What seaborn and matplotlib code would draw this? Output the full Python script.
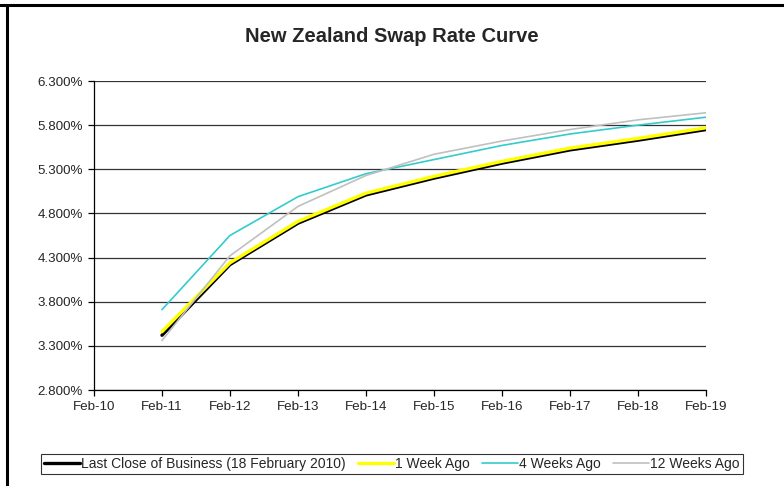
import matplotlib
matplotlib.use("Agg")
import matplotlib.pyplot as plt
import matplotlib.dates as mdates
from matplotlib.lines import Line2D
from matplotlib.ticker import FuncFormatter
import pandas as pd
import seaborn as sns

# Tenor dates (one point per year) and swap rates in percent
dates = pd.to_datetime([f"{y}-02-18" for y in range(2011, 2020)])
last_close = [3.42, 4.22, 4.69, 5.01, 5.20, 5.37, 5.52, 5.63, 5.75]
week_1 = [3.46, 4.24, 4.71, 5.03, 5.22, 5.39, 5.54, 5.65, 5.77]
week_4 = [3.71, 4.55, 4.99, 5.25, 5.41, 5.57, 5.70, 5.80, 5.89]
week_12 = [3.36, 4.32, 4.88, 5.23, 5.47, 5.62, 5.75, 5.86, 5.94]

series = [
    ("Last Close of Business (18 February 2010)", last_close, "#000000", 2.4),
    ("1 Week Ago", week_1, "#FFFF00", 2.4),
    ("4 Weeks Ago", week_4, "#33CCCC", 1.2),
    ("12 Weeks Ago", week_12, "#C0C0C0", 1.2),
]

sns.set_style("white")
plt.rcParams["font.family"] = ["Liberation Sans", "DejaVu Sans"]

fig = plt.figure(figsize=(7.84, 4.86), dpi=100)
ax = fig.add_axes([94 / 784, 1 - 390 / 486, 612 / 784, 309 / 486])

for name, vals, color, lw in series:
    df = pd.DataFrame({"date": dates, "rate": vals})
    sns.lineplot(data=df, x="date", y="rate", ax=ax, color=color,
                 linewidth=lw, label=name, legend=False)

ax.set_xlim(pd.Timestamp("2010-02-18"), pd.Timestamp("2019-02-18"))
ax.set_ylim(2.8, 6.3)
ax.set_yticks([2.8, 3.3, 3.8, 4.3, 4.8, 5.3, 5.8, 6.3])
ax.yaxis.set_major_formatter(FuncFormatter(lambda v, _: f"{v:.3f}%"))
ax.xaxis.set_major_locator(mdates.YearLocator(base=1, month=2, day=18))
ax.xaxis.set_major_formatter(mdates.DateFormatter("%b-%y"))
ax.set_xlabel("")
ax.set_ylabel("")

ax.grid(axis="y", color="#333333", linewidth=0.9)
ax.grid(axis="x", visible=False)
for side in ["top", "right"]:
    ax.spines[side].set_visible(False)
for side in ["left", "bottom"]:
    ax.spines[side].set_color("black")
    ax.spines[side].set_linewidth(0.9)
ax.tick_params(axis="both", direction="out", length=4, width=0.9,
               color="black", labelsize=9.6, pad=4, left=True, bottom=True)

fig.text(0.5, 1 - 36 / 486, "New Zealand Swap Rate Curve", ha="center",
         va="center", fontsize=14.5, fontweight="bold")

handles = [Line2D([], [], color=c, linewidth=lw) for _, _, c, lw in series]
leg = fig.legend(handles, [s[0] for s in series], loc="center",
                 bbox_to_anchor=(0.5, 1 - 464 / 486), ncol=4, fontsize=10,
                 frameon=True, fancybox=False, edgecolor="black",
                 handlelength=2.6, handletextpad=0.05, columnspacing=0.9,
                 borderpad=0.25, borderaxespad=0)
leg.get_frame().set_linewidth(0.8)

# outer chart frame (top and left edges visible in the screenshot)
fig.add_artist(Line2D([0, 1], [1 - 5 / 486, 1 - 5 / 486], color="black",
                      linewidth=2.2, transform=fig.transFigure))
fig.add_artist(Line2D([7 / 784, 7 / 784], [0, 1 - 5 / 486], color="black",
                      linewidth=2.2, transform=fig.transFigure))

fig.savefig("out.png", dpi=100)
